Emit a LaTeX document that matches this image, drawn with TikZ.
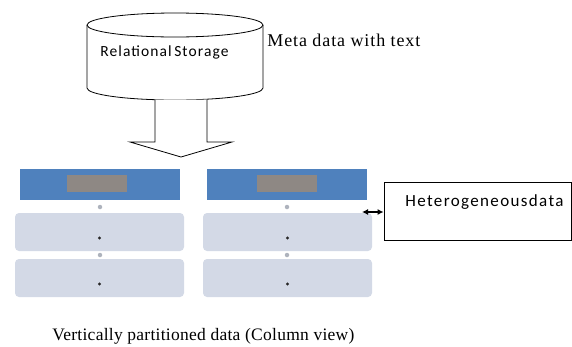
\documentclass[tikz,border=0pt]{standalone}
\usepackage{fontspec}
\usetikzlibrary{arrows.meta}
\setmainfont{Liberation Serif}
\newfontfamily\calib{Carlito}
\begin{document}
\begin{tikzpicture}[x=1pt,y=-1pt,
  hdr/.style={draw=none,fill=hdrblue,minimum width=160pt,minimum height=31pt,inner sep=0pt},
  cell/.style={draw=none,fill=cellgray,rounded corners=4pt,minimum width=169pt,minimum height=38pt,inner sep=0pt},
  blurb/.style={fill=blurgray,minimum width=60pt,minimum height=17pt,inner sep=0pt},
  sdot/.style={circle,fill=dotgray,inner sep=0pt,minimum size=4.5pt},
  bdot/.style={circle,fill=black!85,inner sep=0pt,minimum size=3.2pt},
  lbl/.style={anchor=base west,inner sep=0pt},
  every path/.style={line width=0.8pt}]
\definecolor{hdrblue}{HTML}{4F81BD}
\definecolor{cellgray}{HTML}{D3D9E6}
\definecolor{blurgray}{HTML}{8E8884}
\definecolor{dotgray}{HTML}{AEB3BD}
\useasboundingbox (0,0) rectangle (572,346);
% cylinder
\draw[fill=white] (87,25) -- (87,88) arc[start angle=180,end angle=0,x radius=88,y radius=12] -- (263,25);
\draw (175,25) ellipse[x radius=88,y radius=12];
\node[lbl,font=\calib\addfontfeature{LetterSpace=7}\fontsize{15.5}{18}\selectfont] (rs) at (100,56.5) {Relational\kern-2pt{} Storage};
\node[lbl,font=\addfontfeature{LetterSpace=5}\fontsize{18}{20}\selectfont] (meta) at (267,46.5) {Meta data with text};
% big arrow
\draw[fill=white] (155,99.7) -- (155,142) -- (130,142) -- (181,157) -- (232,142) -- (207,142) -- (207,99.7);
% columns
\node[hdr] (h1) at (100,184.5) {};
\node[hdr] (h2) at (287,184.5) {};
\node[blurb] (b1) at (97,183.5) {};
\node[blurb] (b2) at (287,183.5) {};
\node[sdot] (s1) at (100,207) {};
\node[sdot] (s2) at (287,207) {};
\node[cell] (c11) at (99.5,232) {};
\node[cell] (c21) at (287.5,232) {};
\node[sdot] (s3) at (100,255) {};
\node[sdot] (s4) at (287,255) {};
\node[cell] (c12) at (99.5,278) {};
\node[cell] (c22) at (287.5,278) {};
\node[bdot] at (c11.center) [yshift=-6pt] {};
\node[bdot] at (c12.center) [yshift=-6pt] {};
\node[bdot] at (c21.center) [yshift=-6pt] {};
\node[bdot] at (c22.center) [yshift=-6pt] {};
% heterogeneous box
\node[draw,line width=0.8pt,minimum width=187pt,minimum height=58pt,inner sep=0pt] (het) at (477.5,211) {};
\node[lbl,font=\calib\addfontfeature{LetterSpace=8}\fontsize{17}{19}\selectfont] (ht) at (405,206.5) {Heterogeneousdata};
\coordinate (ae) at (362,212);
\draw[{Latex[length=6pt,width=6pt]}-{Latex[length=6pt,width=6pt]},line width=1.2pt] (ae) -- (het.west|-ae);
\node[lbl,font=\addfontfeature{LetterSpace=1.5}\fontsize{17.5}{20}\selectfont] (cap) at (52,340) {Vertically partitioned data (Column view)};
\end{tikzpicture}
\end{document}
